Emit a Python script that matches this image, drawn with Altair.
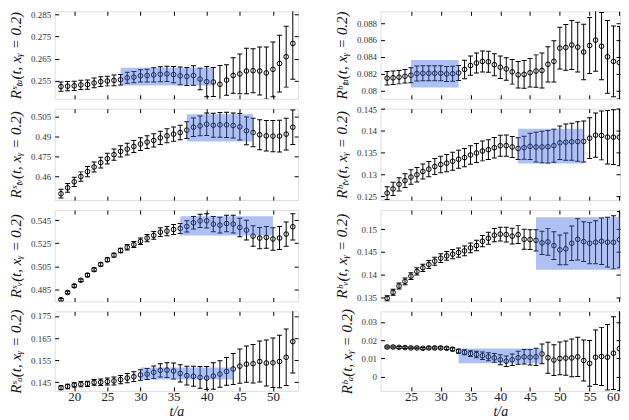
import altair as alt
import pandas as pd

# ---------------- data ----------------
t_left = list(range(18, 54))
t_right = list(range(21, 61))

x_ticks_left = [20, 25, 30, 35, 40, 45, 50]
x_ticks_right = [25, 30, 35, 40, 45, 50, 55, 60]

# left column (s)
sta_val = [0.25235, 0.2525, 0.25265, 0.25309, 0.25324, 0.25397, 0.25456, 0.25485, 0.25515, 0.25544,
           0.25632, 0.25662, 0.25721, 0.25735, 0.25765, 0.25794, 0.25809, 0.25779, 0.25721, 0.25691,
           0.25735, 0.25574, 0.25456, 0.25441, 0.25338, 0.25529, 0.25735, 0.25809, 0.25941, 0.25956,
           0.25941, 0.25853, 0.26015, 0.26279, 0.26588, 0.27191]
sta_err = [0.0021, 0.0021, 0.0021, 0.0021, 0.0021, 0.0022, 0.0022, 0.0022, 0.0024, 0.0024,
           0.0025, 0.0026, 0.0028, 0.0029, 0.0032, 0.0034, 0.0035, 0.0037, 0.004, 0.0041,
           0.0044, 0.0049, 0.0069, 0.0066, 0.0085, 0.0069, 0.0081, 0.009, 0.0103, 0.01,
           0.0109, 0.0118, 0.0124, 0.0129, 0.0138, 0.0162]
sta_band = [27, 41, 0.2528, 0.2609]

stv_val = [0.4468, 0.4513, 0.4558, 0.4598, 0.4635, 0.467, 0.4703, 0.4733, 0.4763, 0.4788,
           0.4805, 0.4825, 0.4843, 0.4858, 0.487, 0.489, 0.4905, 0.4918, 0.493, 0.4948,
           0.497, 0.498, 0.4993, 0.4985, 0.4988, 0.4988, 0.4983, 0.4973, 0.4943, 0.493,
           0.4913, 0.4905, 0.4903, 0.4903, 0.4918, 0.497]
stv_err = [0.0033, 0.0033, 0.0035, 0.0035, 0.0038, 0.0038, 0.004, 0.004, 0.0043, 0.0043,
           0.0045, 0.0045, 0.0048, 0.0048, 0.005, 0.005, 0.0053, 0.0053, 0.0055, 0.0063,
           0.007, 0.0075, 0.0085, 0.009, 0.0093, 0.0095, 0.0095, 0.01, 0.0105, 0.0108,
           0.0113, 0.0115, 0.0118, 0.012, 0.012, 0.013]
stv_band = [37, 47, 0.4863, 0.5068]

sv_val = [0.4765, 0.4827, 0.4884, 0.4932, 0.4977, 0.5023, 0.5068, 0.5108, 0.5148, 0.5188,
          0.5216, 0.5239, 0.5267, 0.5295, 0.5318, 0.5346, 0.5355, 0.5369, 0.5378, 0.5395,
          0.5426, 0.5443, 0.5443, 0.5415, 0.5406, 0.542, 0.5415, 0.5386, 0.5363, 0.5312,
          0.5295, 0.5301, 0.5287, 0.5295, 0.5329, 0.5392]
sv_err = [0.0011, 0.0011, 0.0011, 0.0011, 0.0014, 0.0014, 0.0014, 0.0017, 0.0017, 0.002,
          0.0023, 0.0026, 0.0028, 0.0031, 0.0034, 0.0037, 0.004, 0.0043, 0.0043, 0.0048,
          0.0054, 0.0057, 0.0062, 0.0065, 0.0068, 0.0071, 0.0077, 0.0079, 0.0085, 0.0088,
          0.0091, 0.0094, 0.0096, 0.0099, 0.0105, 0.0113]
sv_band = [36, 50, 0.5318, 0.5483]

sa_val = [0.1425, 0.1431, 0.1438, 0.1441, 0.1443, 0.1449, 0.145, 0.1453, 0.1456, 0.1462,
          0.1469, 0.1475, 0.1483, 0.1487, 0.1495, 0.1504, 0.1505, 0.1501, 0.149, 0.148,
          0.1477, 0.1472, 0.1469, 0.1478, 0.1487, 0.1499, 0.151, 0.1523, 0.1532, 0.1534,
          0.1544, 0.1537, 0.1538, 0.1544, 0.1563, 0.1634]
sa_err = [0.0009, 0.001, 0.001, 0.0012, 0.0012, 0.0013, 0.0015, 0.0016, 0.0018, 0.0019,
          0.0021, 0.0022, 0.0024, 0.0025, 0.0028, 0.003, 0.0033, 0.0036, 0.0039, 0.0042,
          0.0045, 0.0049, 0.0052, 0.006, 0.006, 0.0063, 0.007, 0.0078, 0.0082, 0.0087,
          0.0093, 0.0104, 0.0112, 0.0119, 0.0128, 0.0142]
sa_band = [30, 44, 0.1462, 0.1517]

# right column (b)
rta_val = [0.08145, 0.08149, 0.08157, 0.08168, 0.0818, 0.082, 0.08203, 0.08203, 0.08203, 0.08203,
           0.08195, 0.08198, 0.08207, 0.08249, 0.08295, 0.08325, 0.08344, 0.0834, 0.08305, 0.08275,
           0.08255, 0.0822, 0.08185, 0.0819, 0.0821, 0.0823, 0.08236, 0.0831, 0.08345, 0.08502,
           0.0851, 0.0854, 0.08514, 0.08456, 0.08533, 0.08598, 0.08525, 0.08399, 0.08345, 0.0833]
rta_err = [0.0008, 0.0008, 0.0008, 0.0008, 0.0009, 0.0009, 0.0009, 0.0009, 0.0009, 0.0009,
           0.0009, 0.0009, 0.0009, 0.0011, 0.00115, 0.0012, 0.00125, 0.00125, 0.0013, 0.00134,
           0.00134, 0.00146, 0.00157, 0.00165, 0.00169, 0.00192, 0.00207, 0.0021, 0.00245, 0.00249,
           0.00272, 0.00291, 0.00295, 0.0033, 0.00333, 0.00372, 0.004, 0.00433, 0.0042, 0.0043]
rta_band = [25, 33, 0.08034, 0.0836]

rtv_val = [0.1257, 0.12667, 0.12773, 0.12856, 0.1294, 0.12992, 0.13068, 0.13121, 0.13182, 0.13227,
           0.13258, 0.13303, 0.13348, 0.13386, 0.13447, 0.13492, 0.13538, 0.13568, 0.13614, 0.13659,
           0.13662, 0.1363, 0.13595, 0.13614, 0.13644, 0.13629, 0.1363, 0.13636, 0.1366, 0.13727,
           0.13742, 0.1375, 0.13755, 0.13758, 0.13833, 0.13902, 0.13895, 0.13856, 0.13856, 0.13856]
rtv_err = [0.00144, 0.00152, 0.00152, 0.00159, 0.00167, 0.00167, 0.00174, 0.00174, 0.00182, 0.00189,
           0.00197, 0.00205, 0.00205, 0.00212, 0.00212, 0.0022, 0.00227, 0.00227, 0.00235, 0.00242,
           0.00242, 0.00242, 0.0025, 0.00265, 0.00303, 0.00341, 0.00364, 0.00371, 0.00379, 0.00386,
           0.00417, 0.00424, 0.00455, 0.0047, 0.0047, 0.00508, 0.00561, 0.00614, 0.00629, 0.00659]
rtv_band = [43, 54, 0.1325, 0.1405]

rv_val = [0.13478, 0.1361, 0.13748, 0.1385, 0.13967, 0.14069, 0.1415, 0.14223, 0.14296, 0.14361,
          0.14412, 0.14449, 0.14485, 0.14522, 0.14588, 0.14639, 0.14734, 0.14799, 0.14866, 0.1489,
          0.1488, 0.14846, 0.1488, 0.14776, 0.1477, 0.14754, 0.14697, 0.14719, 0.14638, 0.14544,
          0.14566, 0.1469, 0.14776, 0.14725, 0.1469, 0.14712, 0.14734, 0.14712, 0.1471, 0.14769]
rv_err = [0.00058, 0.00066, 0.00066, 0.00073, 0.00073, 0.0008, 0.0008, 0.00088, 0.00088, 0.00095,
          0.00095, 0.00102, 0.00102, 0.00109, 0.00109, 0.00117, 0.00124, 0.00131, 0.00146, 0.00153,
          0.00161, 0.00175, 0.00197, 0.00219, 0.00219, 0.00234, 0.00255, 0.00292, 0.00307, 0.00328,
          0.0035, 0.0038, 0.00453, 0.00438, 0.00453, 0.00474, 0.00511, 0.00547, 0.00584, 0.0062]
rv_band = [46, 60.5, 0.14105, 0.1526]

ra_val = [0.0162, 0.0162, 0.016, 0.0159, 0.0157, 0.0157, 0.0155, 0.0157, 0.0157, 0.0157,
          0.0155, 0.015, 0.0139, 0.0133, 0.0126, 0.0121, 0.0114, 0.0108, 0.0102, 0.0092,
          0.0084, 0.0092, 0.0103, 0.0108, 0.0106, 0.0108, 0.0124, 0.0103, 0.009, 0.0099,
          0.0101, 0.0102, 0.0108, 0.0088, 0.0072, 0.0106, 0.011, 0.0106, 0.0128, 0.0153]
ra_err = [0.0005, 0.0005, 0.0005, 0.0005, 0.0005, 0.0005, 0.0005, 0.0006, 0.0006, 0.0006,
          0.0007, 0.0008, 0.0011, 0.0014, 0.0016, 0.0018, 0.002, 0.0022, 0.0024, 0.0027,
          0.0029, 0.0032, 0.0036, 0.004, 0.0043, 0.0047, 0.0054, 0.0085, 0.0085, 0.009,
          0.0094, 0.0104, 0.0108, 0.0113, 0.0126, 0.015, 0.016, 0.018, 0.02, 0.023]
ra_band = [33, 47, 0.0073, 0.0154]

# y-axis settings
y_dom_left = [[0.2468, 0.2865], [0.442, 0.511], [0.475, 0.5536], [0.1411, 0.1771]]
y_ticks_left = [[0.255, 0.265, 0.275, 0.285], [0.46, 0.475, 0.49, 0.505],
                [0.485, 0.505, 0.525, 0.545], [0.145, 0.155, 0.165, 0.175]]
y_dom_right = [[0.0790, 0.0894], [0.1241, 0.1451], [0.1341, 0.1542], [-0.0079, 0.0358]]
y_ticks_right = [[0.08, 0.082, 0.084, 0.086, 0.088], [0.125, 0.13, 0.135, 0.14, 0.145],
                 [0.135, 0.14, 0.145, 0.15], [0, 0.01, 0.02, 0.03]]

titles_left = ["Rˢₜₐ(t, xᵧ = 0.2)", "Rˢₜᵥ(t, xᵧ = 0.2)", "Rˢᵥ(t, xᵧ = 0.2)", "Rˢₐ(t, xᵧ = 0.2)"]
titles_right = ["Rᵇₜₐ(t, xᵧ = 0.2)", "Rᵇₜᵥ(t, xᵧ = 0.2)", "Rᵇᵥ(t, xᵧ = 0.2)", "Rᵇₐ(t, xᵧ = 0.2)"]

FONT = "Liberation Serif"
heights = [88, 92, 92, 80]
W_LEFT = 245
W_RIGHT = 241
x_dom_left = [17.05, 53.8]
x_dom_right = [19.9, 60.1]


def panel(t, vals, errs, band, ydom, yticks, ytitle, xdom, xticks, width, height, bottom):
    df = pd.DataFrame({"t": t, "v": vals,
                       "lo": [v - e for v, e in zip(vals, errs)],
                       "hi": [v + e for v, e in zip(vals, errs)]})
    bdf = pd.DataFrame({"x1": [band[0]], "x2": [band[1]], "y1": [band[2]], "y2": [band[3]]})
    xs = alt.Scale(domain=xdom, nice=False, zero=False)
    ys = alt.Scale(domain=ydom, nice=False, zero=False)

    x_bottom = alt.Axis(orient="bottom", values=xticks, labels=bottom, format="d",
                        title="t/a" if bottom else None, offset=-4, tickSize=4,
                        domain=False, grid=False, labelFontSize=13, labelFont=FONT,
                        labelColor="#222", labelPadding=0, labelOverlap=False,
                        titleFont=FONT, titleFontSize=14,
                        titleFontStyle="italic", titleFontWeight="normal", titlePadding=1,
                        titleColor="#111", tickColor="black")
    y_left = alt.Axis(orient="left", values=yticks, format=".3~f", offset=-4, tickSize=4,
                      domain=False, grid=False, labelFontSize=9, labelFont=FONT,
                      labelColor="#333", labelPadding=4, labelOverlap=False,
                      title=ytitle, titleFont=FONT,
                      titleFontSize=15, titleFontStyle="italic", titleFontWeight="normal",
                      titleColor="#111", titlePadding=7, tickColor="black")
    x_top = alt.Axis(orient="top", values=xticks, labels=False, title=None, offset=-4,
                     tickSize=4, domain=False, grid=False, tickColor="black")
    y_right = alt.Axis(orient="right", values=yticks, labels=False, title=None, offset=-4,
                       tickSize=4, domain=False, grid=False, tickColor="black")

    base = alt.Chart(df)
    bars = base.mark_rule(color="black", strokeWidth=1, clip=True).encode(
        x=alt.X("t:Q", scale=xs, axis=x_bottom),
        y=alt.Y("lo:Q", scale=ys, axis=y_left),
        y2="hi:Q")
    cap_lo = base.mark_tick(orient="horizontal", size=5, thickness=1, color="black",
                            opacity=1, clip=True).encode(
        x=alt.X("t:Q", axis=None), y=alt.Y("lo:Q", axis=None))
    cap_hi = base.mark_tick(orient="horizontal", size=5, thickness=1, color="black",
                            opacity=1, clip=True).encode(
        x=alt.X("t:Q", axis=None), y=alt.Y("hi:Q", axis=None))
    pts = base.mark_point(shape="circle", filled=False, size=22, stroke="black",
                          strokeWidth=1, opacity=1, clip=True).encode(
        x=alt.X("t:Q", axis=None), y=alt.Y("v:Q", axis=None))
    rect = alt.Chart(bdf).mark_rect(color="#4169e1", opacity=0.42, clip=True).encode(
        x=alt.X("x1:Q", axis=x_top), x2="x2:Q",
        y=alt.Y("y1:Q", axis=y_right), y2="y2:Q")
    return alt.layer(bars, cap_lo, cap_hi, pts, rect).properties(width=width, height=height)


left_sets = [(sta_val, sta_err, sta_band), (stv_val, stv_err, stv_band),
             (sv_val, sv_err, sv_band), (sa_val, sa_err, sa_band)]
right_sets = [(rta_val, rta_err, rta_band), (rtv_val, rtv_err, rtv_band),
              (rv_val, rv_err, rv_band), (ra_val, ra_err, ra_band)]

panels = []
for i in range(4):
    lv, le, lb = left_sets[i]
    rv, re, rb = right_sets[i]
    panels.append(panel(t_left, lv, le, lb, y_dom_left[i], y_ticks_left[i], titles_left[i],
                        x_dom_left, x_ticks_left, W_LEFT, heights[i], i == 3))
    panels.append(panel(t_right, rv, re, rb, y_dom_right[i], y_ticks_right[i], titles_right[i],
                        x_dom_right, x_ticks_right, W_RIGHT, heights[i], i == 3))

chart = alt.concat(*panels, columns=2, spacing={"row": 10, "column": 83},
                   bounds="flush", align="each").properties(
    padding=0
).configure_view(stroke="black", strokeWidth=1).configure(background="white")

chart.save("out.html", embed_options={"renderer": "svg", "actions": False})
